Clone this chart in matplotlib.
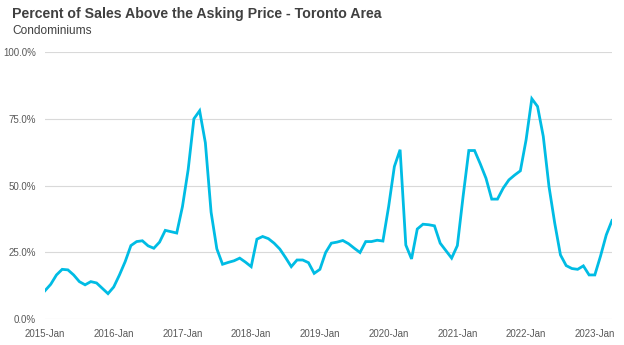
import matplotlib.pyplot as plt
import matplotlib.ticker as mticker
import pandas as pd

plt.rcParams['font.family'] = ['Liberation Sans', 'DejaVu Sans']

# monthly share of sales above asking (%), Jan 2015 .. Apr 2023
y2015 = [10.6, 13.0, 16.5, 18.6, 18.4, 16.5, 14.0, 12.8, 14.0, 13.5, 11.5, 9.5]
y2016 = [12.0, 16.5, 21.5, 27.5, 29.0, 29.3, 27.4, 26.5, 28.8, 33.2, 32.7, 32.2]
y2017 = [42.1, 56.0, 75.0, 78.0, 66.0, 40.0, 26.3, 20.5, 21.2, 21.8, 22.8, 21.3]
y2018 = [19.6, 29.9, 30.9, 30.1, 28.4, 26.2, 23.0, 19.6, 22.1, 22.1, 21.1, 17.1]
y2019 = [18.6, 24.9, 28.4, 28.8, 29.4, 28.2, 26.5, 24.9, 29.0, 29.0, 29.5, 29.2]
y2020 = [42.1, 57.1, 63.4, 27.7, 22.5, 33.7, 35.5, 35.3, 34.9, 28.4, 25.6, 22.8]
y2021 = [27.5, 45.9, 63.1, 63.1, 58.1, 52.7, 44.9, 44.9, 49.0, 52.1, 53.9, 55.5]
y2022 = [67.1, 82.5, 79.6, 68.4, 49.6, 35.9, 24.0, 20.0, 18.9, 18.6, 19.9, 16.5]
y2023 = [16.5, 23.6, 31.5, 36.9]

values = y2015 + y2016 + y2017 + y2018 + y2019 + y2020 + y2021 + y2022 + y2023
months = pd.date_range('2015-01-01', periods=len(values), freq='MS')
labels = [m.strftime('%Y-%b') for m in months]

fig = plt.figure(figsize=(6.24, 3.45), dpi=100)
ax = fig.add_axes([45 / 624, 1 - 319 / 345, 567 / 624, 267 / 345])

ax.plot(range(len(values)), [v / 100 for v in values], color='#00BCE4', lw=2.0,
        solid_joinstyle='miter')

ax.set_xlim(0, len(values) - 1)
ax.set_ylim(0, 1)
ax.yaxis.set_major_locator(mticker.MultipleLocator(0.25))
ax.yaxis.set_major_formatter(mticker.PercentFormatter(1.0, decimals=1))

# one tick per January
jan_idx = [i for i, m in enumerate(months) if m.month == 1]
ax.set_xticks(jan_idx)
ax.set_xticklabels([labels[i] for i in jan_idx])

ax.grid(axis='y', color='#D9D9D9', lw=0.8)
ax.set_axisbelow(True)
for s in ax.spines.values():
    s.set_visible(False)
ax.tick_params(length=0, labelsize=7, labelcolor='#595959')
ax.tick_params(axis='y', pad=6.5)
ax.tick_params(axis='x', pad=7.5)

fig.text(12 / 624, 1 - 14 / 345, 'Percent of Sales Above the Asking Price - Toronto Area',
         fontsize=10.2, fontweight='bold', color='#404040', va='center', ha='left')
fig.text(12 / 624, 1 - 30.5 / 345, 'Condominiums', fontsize=8.6, color='#404040',
         va='center', ha='left')

fig.savefig('out.png', dpi=100)
